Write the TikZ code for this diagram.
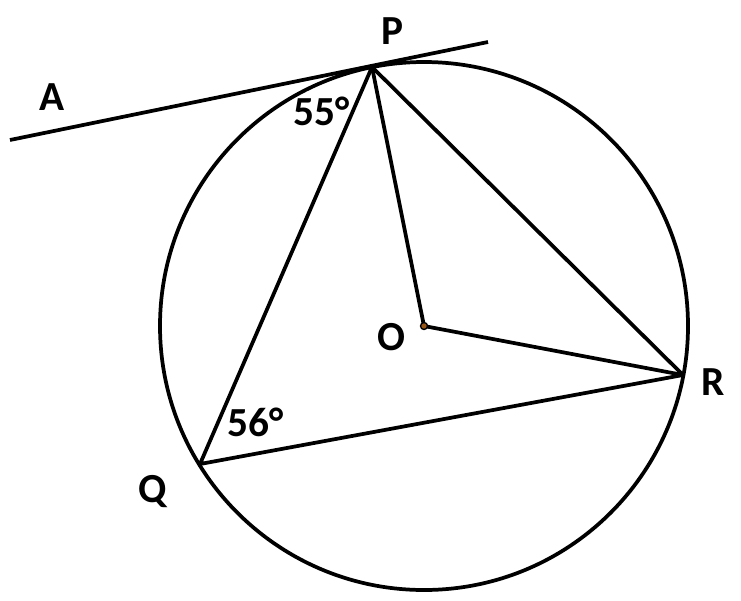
\documentclass[tikz,border=0pt]{standalone}
\usepackage{fontspec}
\setmainfont{Carlito}
\tikzset{
	edge/.style={line width=2.8pt},
	lbl/.style={font=\fontsize{31}{36}\selectfont\bfseries, inner sep=0pt},
	ang/.style={font=\fontsize{31}{36}\selectfont\bfseries, inner sep=0pt}
}
\begin{document}
\begin{tikzpicture}[x=0.75pt,y=-0.75pt]
		\useasboundingbox (0,0) rectangle (741,600);
		\coordinate (O) at (424,326);
		\coordinate (P) at (372,67);
		\coordinate (R) at (683,375);
		\coordinate (Q) at (200,464);
		\coordinate (T1) at (10,140);
		\coordinate (T2) at (488,42);
		\draw [edge] (O) circle (264);
		\draw [edge] (T1) -- (T2);
		\draw [edge, line join=round] (P) -- (Q) -- (R) -- cycle;
		\draw [edge, line join=round] (P) -- (O) -- (R);
		\fill [draw=black, line width=1pt, fill={rgb,255:red,150;green,85;blue,20}] (O) circle (3.5);
		\node [lbl] (lA) at (52,97) {A};
		\node [lbl] (lP) at (392,31) {P};
		\node [lbl] (lO) at (391,337) {O};
		\node [lbl] (lR) at (713,382) {R};
		\node [lbl] (lQ) at (153,492) {Q};
		\node [ang] (a55) at (322,111) {55°};
		\node [ang] (a56) at (256,422) {56°};
	\end{tikzpicture}
\end{document}
